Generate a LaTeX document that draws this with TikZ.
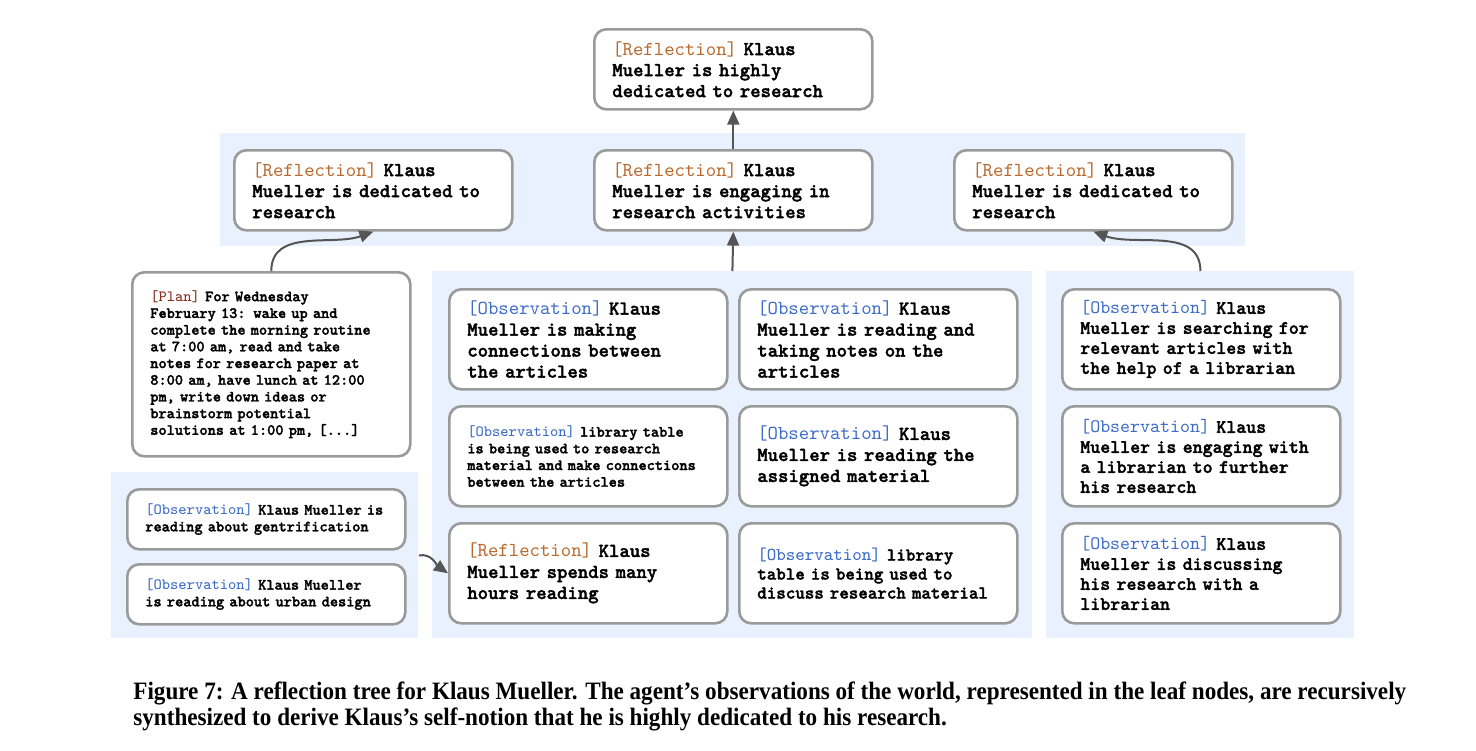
\documentclass[tikz,border=0pt]{standalone}
\usepackage{fontspec}
\usetikzlibrary{arrows.meta}
\newfontfamily\capfont[FakeStretch=0.925]{Liberation Serif}
\newfontfamily\cardfont{lmmonolt10-bold.otf}[FakeBold=1.8]
\definecolor{bgblue}{HTML}{E8F1FD}
\definecolor{cardgray}{HTML}{9A9A9A}
\definecolor{arrowgray}{HTML}{555555}
\definecolor{reflcol}{HTML}{B8682C}
\definecolor{obscol}{HTML}{3C6CC8}
\definecolor{plancol}{HTML}{8A2C1E}
\newcommand{\refl}{\textcolor{reflcol}{\ttfamily\mdseries[Reflection]}}
\newcommand{\obs}{\textcolor{obscol}{\ttfamily\mdseries[Observation]}}
\newcommand{\plantag}{\textcolor{plancol}{\ttfamily\mdseries[Plan]}}

\begin{document}
\begin{tikzpicture}[x=0.5pt, y=-0.5pt,
    main/.style = {draw=cardgray, line width=1.3pt, rounded corners=6pt, fill=white,
        anchor=north west, inner sep=0pt, align=left, text width=121pt,
        minimum width=139pt, minimum height=40pt},
    panel/.style = {fill=bgblue, anchor=north west, inner sep=0pt},
    big/.style = {font=\cardfont\fontsize{9.9}{10.5}\selectfont},
    rp/.style = {font=\cardfont\fontsize{9.5}{10}\selectfont},
    med/.style = {font=\cardfont\fontsize{9.05}{9.5}\selectfont},
    small/.style = {font=\cardfont\fontsize{7.8}{8.35}\selectfont},
    arr/.style = {draw=arrowgray, line width=1pt, -{Triangle[length=7pt,width=6pt]}}]
    \useasboundingbox (0,0) rectangle (1476,750);

    % background panels
    \node[panel, minimum width=512.5pt, minimum height=56.5pt] (p1) at (220,133) {};
    \node[panel, minimum width=300pt, minimum height=183.5pt] (p2) at (432,271) {};
    \node[panel, minimum width=154pt, minimum height=183.5pt] (p3) at (1046,271) {};
    \node[panel, minimum width=153.5pt, minimum height=83pt] (p4) at (111,472) {};

    % reflections
    \node[main, big] (1) at (593,28) {\refl{} Klaus\\Mueller is highly\\dedicated to research};
    \node[main, big] (2) at (233,149) {\refl{} Klaus\\Mueller is dedicated to\\research};
    \node[main, big] (3) at (593,149) {\refl{} Klaus\\Mueller is engaging in\\research activities};
    \node[main, big] (4) at (953,149) {\refl{} Klaus\\Mueller is dedicated to\\research};
    \node[main, small, minimum height=92pt] (5) at (131,271) {\plantag{} For Wednesday\\February 13: wake up and\\complete the morning routine\\at 7:00 am, read and take\\notes for research paper at\\8:00 am, have lunch at 12:00\\pm, write down ideas or\\brainstorm potential\\solutions at 1:00 pm, [...]};

    % center panel
    \node[main, big, minimum height=50pt] (6) at (448,288) {\obs{} Klaus\\Mueller is making\\connections between\\the articles};
    \node[main, big, minimum height=50pt] (7) at (738,288) {\obs{} Klaus\\Mueller is reading and\\taking notes on the\\articles};
    \node[main, small, minimum height=50pt] (8) at (448,405) {\obs{} library table\\is being used to research\\material and make connections\\between the articles};
    \node[main, big, minimum height=50pt] (9) at (738,405) {\obs{} Klaus\\Mueller is reading the\\assigned material};
    \node[main, big, minimum height=50pt] (10) at (448,522) {\refl{} Klaus\\Mueller spends many\\hours reading};
    \node[main, med, minimum height=50pt] (11) at (738,522) {\obs{} library\\table is being used to\\discuss research material};

    % right panel
    \node[main, rp, minimum height=50pt] (12) at (1061,288) {\obs{} Klaus\\Mueller is searching for\\relevant articles with\\the help of a librarian};
    \node[main, rp, minimum height=50pt] (13) at (1061,405) {\obs{} Klaus\\Mueller is engaging with\\a librarian to further\\his research};
    \node[main, rp, minimum height=50pt] (14) at (1061,522) {\obs{} Klaus\\Mueller is discussing\\his research with a\\librarian};

    % left panel
    \node[main, small, minimum height=30pt] (15) at (126,488) {\obs{} Klaus Mueller is\\reading about gentrification};
    \node[main, small, minimum height=30pt] (16) at (126,563) {\obs{} Klaus Mueller\\is reading about urban design};

    \draw[arr] (3.north) -- (1.south);
    \draw[arr] (p2.north) -- (3.south);
    \draw[arr] (5.north) to[out=90, in=200] (2.south);
    \draw[arr] (p3.north) to[out=90, in=-20] (4.south);
    \draw[arr] (p4.east) to[out=10, in=145] (10.west);

    % caption
    \node[anchor=base west, inner sep=0pt, font=\capfont\bfseries\fontsize{12.5}{13}\selectfont] (c1) at (133,699) {Figure 7: A reflection tree for Klaus Mueller. The agent’s observations of the world, represented in the leaf nodes, are recursively};
    \node[anchor=base west, inner sep=0pt, font=\capfont\bfseries\fontsize{12.5}{13}\selectfont] (c2) at (133,725) {synthesized to derive Klaus’s self-notion that he is highly dedicated to his research.};
\end{tikzpicture}
\end{document}
